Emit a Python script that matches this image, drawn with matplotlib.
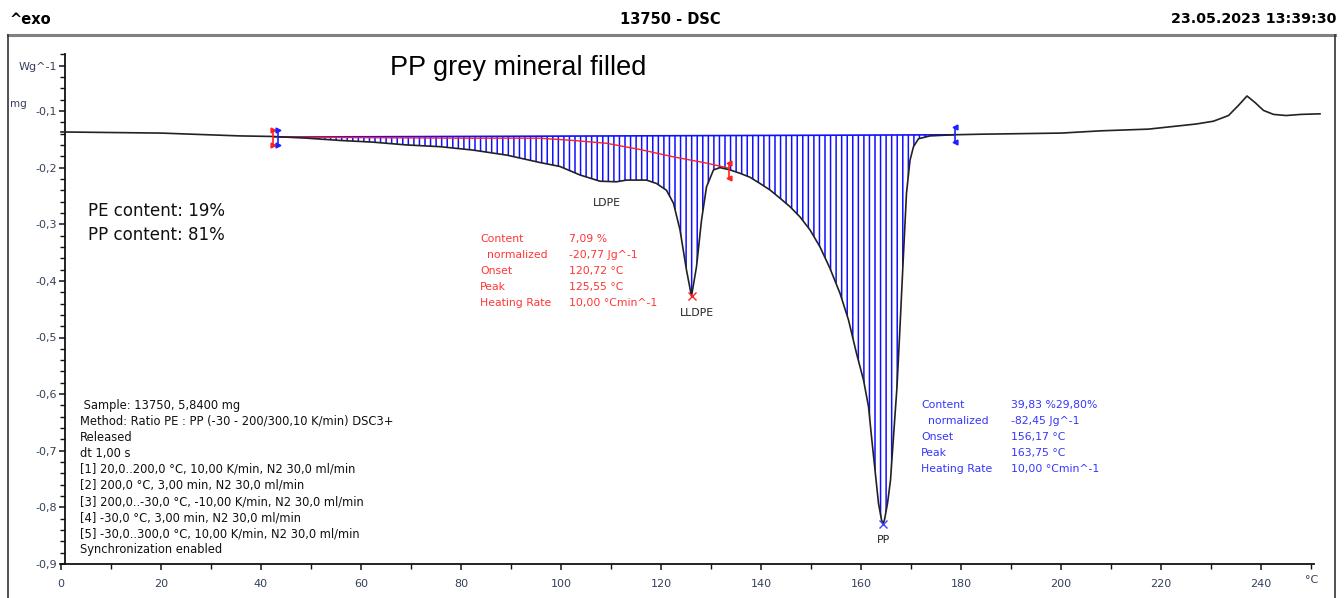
import numpy as np
import matplotlib
matplotlib.use("Agg")
import matplotlib.pyplot as plt
from matplotlib.ticker import FixedLocator, MultipleLocator, FuncFormatter
from matplotlib.lines import Line2D

# ---------------- data ----------------
curve_T = [0, 20, 35.8, 42.4, 49.2, 55.8, 62.4, 69.2, 75.8, 82.4, 89.2, 95.8,
           99.8, 103.8, 107.8, 111.1, 113.1, 117.1, 119.1, 121.1, 122.5, 123.8,
           125.1, 126.1, 127.1, 128.1, 129.1, 130.5, 131.8, 133.8, 135.8, 137.8,
           139.8, 141.8, 143.8, 145.8, 147.8, 149.8, 151.8, 153.8, 155.8, 157.5,
           159.1, 160.5, 161.5, 162.1, 162.8, 163.5, 164.1, 164.4, 164.7, 165.3,
           165.9, 166.5, 167.2, 167.8, 168.5, 169.1, 169.8, 170.5, 171.5, 173.8,
           178.5, 183.8, 200, 208, 217.5, 227, 230.5, 233.5, 235.5, 237.2, 238.8,
           240.5, 242.5, 245, 248, 251.8]
curve_v = [-0.137, -0.139, -0.144, -0.145, -0.148, -0.152, -0.155, -0.160, -0.163,
           -0.169, -0.178, -0.191, -0.198, -0.213, -0.224, -0.225, -0.222, -0.222,
           -0.228, -0.240, -0.263, -0.310, -0.381, -0.427, -0.375, -0.293, -0.234,
           -0.204, -0.200, -0.204, -0.210, -0.217, -0.228, -0.2395, -0.254, -0.269,
           -0.287, -0.310, -0.340, -0.378, -0.422, -0.469, -0.528, -0.575, -0.622,
           -0.675, -0.734, -0.793, -0.822, -0.829, -0.822, -0.793, -0.752, -0.675,
           -0.587, -0.481, -0.352, -0.245, -0.187, -0.163, -0.149, -0.144, -0.142,
           -0.141, -0.139, -0.135, -0.132, -0.123, -0.118, -0.108, -0.090, -0.0735,
           -0.085, -0.099, -0.106, -0.108, -0.106, -0.105]

# integration baselines
blue_base_T = [43.4, 178.8]
blue_base_v = [-0.146, -0.142]
red_base_T = [42.4, 60, 80, 95.8, 102.4, 109.1, 115.8, 122.5, 129.1, 133.6]
red_base_v = [-0.146, -0.147, -0.148, -0.148, -0.152, -0.157, -0.168, -0.181,
              -0.192, -0.201]

# integration limit markers (T, v_top, v_bottom)
red_limits = [(42.4, -0.134, -0.160), (133.6, -0.192, -0.218)]
blue_limits = [(43.4, -0.134, -0.160), (178.8, -0.128, -0.155)]

# peaks
lldpe_peak = (126.1, -0.427)
pp_peak = (164.4, -0.829)

x_major = list(range(0, 241, 20))
x_minor = list(range(10, 251, 10))
y_major = [-0.9, -0.8, -0.7, -0.6, -0.5, -0.4, -0.3, -0.2, -0.1, -0.02]

red_labels = ["Content", "  normalized", "Onset", "Peak", "Heating Rate"]
red_values = ["7,09 %", "-20,77 Jg^-1", "120,72 °C", "125,55 °C", "10,00 °Cmin^-1"]
blue_labels = ["Content", "  normalized", "Onset", "Peak", "Heating Rate"]
blue_values = ["39,83 %29,80%", "-82,45 Jg^-1", "156,17 °C", "163,75 °C",
               "10,00 °Cmin^-1"]
sample_lines = [
    " Sample: 13750, 5,8400 mg",
    "Method: Ratio PE : PP (-30 - 200/300,10 K/min) DSC3+",
    "Released",
    "dt 1,00 s",
    "[1] 20,0..200,0 °C, 10,00 K/min, N2 30,0 ml/min",
    "[2] 200,0 °C, 3,00 min, N2 30,0 ml/min",
    "[3] 200,0..-30,0 °C, -10,00 K/min, N2 30,0 ml/min",
    "[4] -30,0 °C, 3,00 min, N2 30,0 ml/min",
    "[5] -30,0..300,0 °C, 10,00 K/min, N2 30,0 ml/min",
    "Synchronization enabled",
]

# ---------------- figure ----------------
W, H = 1344, 598
plt.rcParams['font.family'] = ['DejaVu Sans']
plt.rcParams['hatch.linewidth'] = 1.1
fig = plt.figure(figsize=(W / 100, H / 100), dpi=100)


def px(x, y):
    return x / W, 1 - y / H


def ftext(x, y, s, **kw):
    kw.setdefault('va', 'center')
    fig.text(*px(x, y), s, **kw)


# axes placement: T=0 at x=61px, 5 px/deg ; v=-0.9 at y=564px, 566 px/unit
ax_left, ax_right = 61, 61 + 254 * 5
ax_bottom, ax_top = 564, 564 - 0.9 * 566.25
ax = fig.add_axes([ax_left / W, 1 - ax_bottom / H, (ax_right - ax_left) / W,
                   (ax_bottom - ax_top) / H])
ax.set_xlim(0, 254)
ax.set_ylim(-0.9, 0.0)
ax.patch.set_alpha(0)

for s in ['top', 'right']:
    ax.spines[s].set_visible(False)
ax.spines['left'].set_position(('data', 0.8))
ax.spines['bottom'].set_bounds(0, 250.5)
for s in ['left', 'bottom']:
    ax.spines[s].set_linewidth(1.3)
    ax.spines[s].set_color('#111111')

tick_col = '#34405a'
ax.xaxis.set_major_locator(FixedLocator(x_major))
ax.xaxis.set_minor_locator(FixedLocator(x_minor))
ax.yaxis.set_major_locator(FixedLocator(y_major))
ax.yaxis.set_minor_locator(MultipleLocator(0.02))


def yfmt(v, pos):
    if abs(v + 0.02) < 1e-6:
        return "Wg^-1"
    return ("%.1f" % v).replace('.', ',')


ax.yaxis.set_major_formatter(FuncFormatter(yfmt))
ax.tick_params(axis='both', which='major', length=4, width=1.1, color='#111111',
               labelsize=8, labelcolor=tick_col, pad=2)
ax.tick_params(axis='both', which='minor', length=3.5, width=1.0, color='#111111')
ax.tick_params(axis='x', pad=7)

# hatched integration area
Tc = np.array(curve_T)
vc = np.array(curve_v)
lo, hi = blue_base_T
mask = (Tc > lo) & (Tc < hi)
hx = np.concatenate([[lo], Tc[mask], [hi]])
hy_curve = np.interp(hx, Tc, vc)
hy_base = np.interp(hx, blue_base_T, blue_base_v)
ax.fill_between(hx, hy_base, hy_curve, facecolor='none', edgecolor='#1010ff',
                linewidth=0, hatch='|||', zorder=2)
ax.plot(blue_base_T, blue_base_v, color='#1010ff', lw=1.2, zorder=3)
ax.plot(red_base_T, red_base_v, color='#ff2020', lw=1.0, zorder=3)

# DSC curve
ax.plot(curve_T, curve_v, color='#222222', lw=1.2, zorder=4, clip_on=False,
        solid_joinstyle='round')

# integration limit markers
for (t, v1, v2), col, mk in [(red_limits[0], '#ff2020', '>'),
                             (red_limits[1], '#ff2020', '<'),
                             (blue_limits[0], '#1f1fff', '>'),
                             (blue_limits[1], '#1f1fff', '<')]:
    ax.plot([t, t], [v1, v2], color=col, lw=1.2, zorder=5)
    ax.plot([t, t], [v1, v2], linestyle='none', marker=mk, ms=3.5, color=col,
            zorder=5)

# peak markers
ax.plot(*lldpe_peak, marker='x', ms=6, mew=1.0, color='#ff2020', zorder=6)
ax.plot(*pp_peak, marker='x', ms=6, mew=1.0, color='#4040ff', zorder=6)

# ---------------- frame & header ----------------
fig.add_artist(Line2D([8 / W, 1335 / W], [1 - 35 / H] * 2, color='#808080', lw=2.2))
fig.add_artist(Line2D([8 / W] * 2, [1 - 35 / H, 0], color='#333333', lw=1.2))
fig.add_artist(Line2D([1335 / W] * 2, [1 - 35 / H, 0], color='#333333', lw=1.2))

ftext(10, 19, "^exo", fontsize=10.5, fontweight='bold', ha='left')
ftext(670, 19, "13750 - DSC", fontsize=10.5, fontweight='bold', ha='center')
ftext(1336, 19, "23.05.2023 13:39:30", fontsize=10.3, fontweight='bold', ha='right')

ftext(390, 68, "PP grey mineral filled", fontsize=19.5, ha='left',
      family=['Liberation Sans', 'DejaVu Sans'])
ftext(88, 211, "PE content: 19%", fontsize=12, ha='left', color='#111111')
ftext(88, 235, "PP content: 81%", fontsize=12, ha='left', color='#111111')

ftext(10, 104, "mg", fontsize=7.5, ha='left', color=tick_col)
ftext(1312, 580, "°C", fontsize=8, ha='center', color=tick_col)

# peak labels
ftext(607, 203, "LDPE", fontsize=7.8, ha='center', color='#222222')
ftext(697, 313, "LLDPE", fontsize=7.8, ha='center', color='#222222')
ftext(884, 540, "PP", fontsize=7.8, ha='center', color='#222222')

# result blocks
for i, (lab, val) in enumerate(zip(red_labels, red_values)):
    y = 239 + 16 * i
    ftext(480, y, lab, fontsize=7.8, ha='left', color='#ff3535')
    ftext(569, y, val, fontsize=7.8, ha='left', color='#ff3535')
for i, (lab, val) in enumerate(zip(blue_labels, blue_values)):
    y = 405 + 16 * i
    ftext(921, y, lab, fontsize=7.8, ha='left', color='#3535ff')
    ftext(1011, y, val, fontsize=7.8, ha='left', color='#3535ff')

# sample / method info
for i, line in enumerate(sample_lines):
    ftext(80, 405 + 16.1 * i, line, fontsize=8.3, ha='left', color='#111111')

fig.savefig("out.png", dpi=100)
